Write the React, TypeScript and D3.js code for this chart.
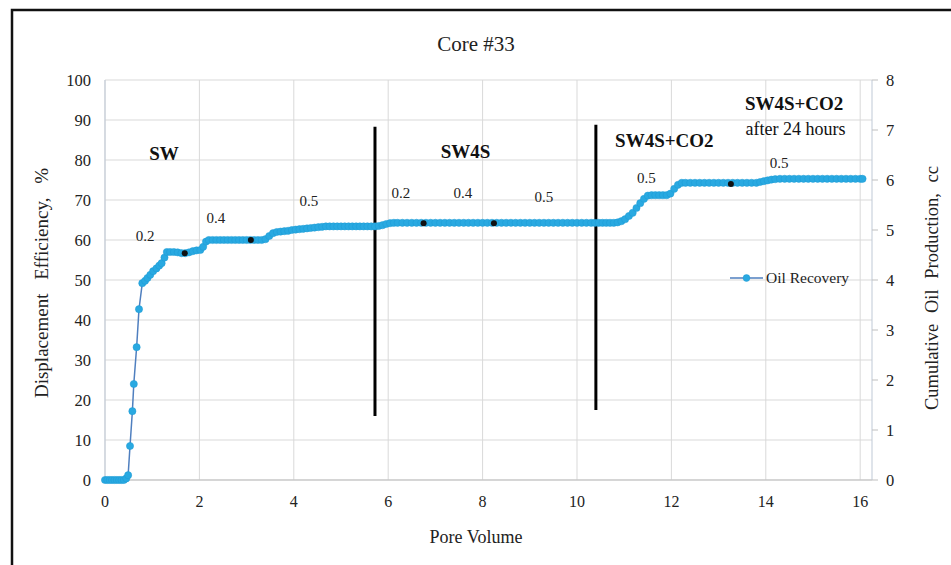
import * as d3 from 'd3'

// Oil recovery curve, [pore volume, displacement efficiency %]
const swStage: [number, number][] = [
  [0, 0], [0.05, 0], [0.1, 0], [0.15, 0], [0.2, 0], [0.25, 0], [0.3, 0], [0.35, 0], [0.4, 0], [0.45, 0.4], [0.49, 1.2],
  [0.53, 8.5], [0.58, 17.2], [0.61, 24], [0.67, 33.2], [0.72, 42.7], [0.79, 49.2],
  [0.85, 49.8], [0.9, 50.5], [0.96, 51.3], [1.02, 52.2], [1.09, 52.9], [1.15, 53.6], [1.2, 54.2], [1.26, 55.6], [1.31, 57],
  [1.38, 57], [1.46, 57], [1.54, 56.9], [1.62, 56.7], [1.7, 56.7], [1.78, 56.9], [1.86, 57.2], [1.94, 57.4], [2.02, 57.5],
  [2.08, 58.3], [2.14, 59.6], [2.2, 60], [2.28, 60], [2.36, 60], [2.44, 60], [2.52, 60], [2.6, 60], [2.68, 60], [2.76, 60],
  [2.84, 60], [2.92, 60], [3.0, 60], [3.08, 60], [3.16, 60], [3.24, 60], [3.32, 60], [3.4, 60.2],
  [3.48, 61], [3.56, 61.7], [3.64, 62], [3.72, 62.1], [3.8, 62.2], [3.88, 62.3], [3.96, 62.5], [4.04, 62.6], [4.12, 62.7],
  [4.2, 62.8], [4.28, 62.9], [4.36, 63], [4.44, 63.1], [4.52, 63.2], [4.6, 63.3], [4.68, 63.4], [4.76, 63.4], [4.84, 63.4],
  [4.92, 63.4], [5.0, 63.4], [5.08, 63.4], [5.16, 63.4], [5.24, 63.4], [5.32, 63.4], [5.4, 63.4], [5.48, 63.4], [5.56, 63.4],
  [5.64, 63.4], [5.72, 63.4],
]

const sw4sStage: [number, number][] = [
  [5.8, 63.5], [5.88, 63.7], [5.96, 64], [6.04, 64.2], [6.12, 64.3], [6.2, 64.3], [6.3, 64.3], [6.4, 64.3], [6.5, 64.3],
  [6.6, 64.3], [6.7, 64.3], [6.8, 64.3], [6.9, 64.3], [7.0, 64.3], [7.1, 64.3], [7.2, 64.3], [7.3, 64.3], [7.4, 64.3],
  [7.5, 64.3], [7.6, 64.3], [7.7, 64.3], [7.8, 64.3], [7.9, 64.3], [8.0, 64.3], [8.1, 64.3], [8.2, 64.3], [8.3, 64.3],
  [8.4, 64.3], [8.5, 64.3], [8.6, 64.3], [8.7, 64.3], [8.8, 64.3], [8.9, 64.3], [9.0, 64.3], [9.1, 64.3], [9.2, 64.3],
  [9.3, 64.3], [9.4, 64.3], [9.5, 64.3], [9.6, 64.3], [9.7, 64.3], [9.8, 64.3], [9.9, 64.3], [10.0, 64.3], [10.1, 64.3],
  [10.2, 64.3], [10.3, 64.3], [10.38, 64.3],
]

const co2Stage: [number, number][] = [
  [10.46, 64.3], [10.54, 64.3], [10.62, 64.3], [10.7, 64.3], [10.78, 64.3], [10.86, 64.4], [10.94, 64.7], [11.02, 65.2],
  [11.1, 66], [11.18, 66.8], [11.26, 68], [11.34, 69.2], [11.42, 70.3], [11.5, 71.1], [11.58, 71.2], [11.66, 71.2],
  [11.74, 71.2], [11.82, 71.2], [11.9, 71.2], [11.98, 71.6], [12.06, 72.8], [12.14, 73.8], [12.22, 74.3], [12.3, 74.3],
]

const co2After24Stage: [number, number][] = [
  [12.4, 74.3], [12.5, 74.3], [12.6, 74.3], [12.7, 74.3], [12.8, 74.3], [12.9, 74.3], [13.0, 74.3], [13.1, 74.3],
  [13.2, 74.3], [13.3, 74.3], [13.4, 74.3], [13.5, 74.3], [13.6, 74.3], [13.7, 74.3], [13.8, 74.3], [13.88, 74.5],
  [13.96, 74.7], [14.04, 74.9], [14.12, 75.1], [14.2, 75.2], [14.3, 75.3], [14.4, 75.3], [14.5, 75.3], [14.6, 75.3],
  [14.7, 75.3], [14.8, 75.3], [14.9, 75.3], [15.0, 75.3], [15.1, 75.3], [15.2, 75.3], [15.3, 75.3], [15.4, 75.3],
  [15.5, 75.3], [15.6, 75.3], [15.7, 75.3], [15.8, 75.3], [15.9, 75.3], [16.0, 75.3], [16.05, 75.3],
]

// black dots where the injection rate changes
const rateChangePV = [1.69, 3.09, 6.75, 8.24, 13.26]
const rateChangeEff = [56.7, 60, 64.2, 64.2, 74.0]

// vertical stage dividers
const dividerPV = [5.72, 10.4]
const dividerTop = [88.3, 88.8]
const dividerBottom = [16, 17.5]

const xTicks = [0, 2, 4, 6, 8, 10, 12, 14, 16]
const yTicks = [0, 10, 20, 30, 40, 50, 60, 70, 80, 90, 100]
const y2Ticks = [0, 1, 2, 3, 4, 5, 6, 7, 8]

// flood stage and rate annotations [pv, eff, text]
const stageLabels: [number, number, string][] = [
  [1.25, 80, 'SW'],
  [7.64, 80.5, 'SW4S'],
  [11.85, 83.3, 'SW4S+CO2'],
  [14.6, 92.5, 'SW4S+CO2'],
]
const rateLabels: [number, number, string][] = [
  [0.85, 59.8, '0.2'], [2.35, 64.2, '0.4'], [4.32, 68.5, '0.5'],
  [6.27, 70.5, '0.2'], [7.58, 70.5, '0.4'], [9.3, 69.5, '0.5'],
  [11.47, 74.2, '0.5'], [14.28, 78, '0.5'],
]

const W = 951
const H = 565
const FONT = '"Liberation Serif", "Times New Roman", serif'
const BLUE = '#29a9e1'
const LINE = '#4f7fbf'

export default function App() {
  const x = d3.scaleLinear().domain([0, 16.25]).range([105, 872])
  const y = d3.scaleLinear().domain([0, 100]).range([480, 80])
  const y2 = d3.scaleLinear().domain([0, 8]).range([480, 80])

  const data = [...swStage, ...sw4sStage, ...co2Stage, ...co2After24Stage]
  const line = d3.line<[number, number]>().x((d) => x(d[0])).y((d) => y(d[1]))

  const [x0, x1] = x.range()
  const [yb, yt] = y.range()

  return (
    <svg width={W} height={H} style={{ position: 'absolute', left: 0, top: 0, background: '#fff' }} fontFamily={FONT}>
      <rect x={12} y={10} width={980} height={620} fill="#fff" stroke="#111" strokeWidth={2.5} />

      {/* grid */}
      {yTicks.map((t) => (
        <line key={'gy' + t} x1={x0} x2={x1} y1={y(t)} y2={y(t)} stroke="#d9d9d9" strokeWidth={1} />
      ))}
      {xTicks.map((t) => (
        <line key={'gx' + t} x1={x(t)} x2={x(t)} y1={yt} y2={yb} stroke="#d9d9d9" strokeWidth={1} />
      ))}

      {/* axes */}
      <line x1={x0} x2={x1} y1={yb} y2={yb} stroke="#bfbfbf" />
      <line x1={x0} x2={x0} y1={yt} y2={yb} stroke="#bfc9d6" />
      <line x1={x1} x2={x1} y1={yt} y2={yb} stroke="#bfc9d6" />
      {y2Ticks.map((t) => (
        <line key={'t2' + t} x1={x1} x2={x1 + 6} y1={y2(t)} y2={y2(t)} stroke="#bfbfbf" />
      ))}

      {yTicks.map((t) => (
        <text key={'ly' + t} x={91} y={y(t) + 6} textAnchor="end" fontSize={16.5} fill="#222">{t}</text>
      ))}
      {y2Ticks.map((t) => (
        <text key={'ry' + t} x={886} y={y2(t) + 6} fontSize={16.5} fill="#222">{t}</text>
      ))}
      {xTicks.map((t) => (
        <text key={'lx' + t} x={x(t)} y={507} textAnchor="middle" fontSize={16} fill="#222">{t}</text>
      ))}

      <text x={476} y={51} textAnchor="middle" fontSize={21} fill="#222">Core #33</text>
      <text x={476} y={543} textAnchor="middle" fontSize={18} fill="#222">Pore Volume</text>
      <text transform="translate(48,283) rotate(-90)" textAnchor="middle" fontSize={19} wordSpacing={9} fill="#222">
        Displacement Efficiency, %
      </text>
      <text transform="translate(938,288) rotate(-90)" textAnchor="middle" fontSize={18.5} wordSpacing={6} fill="#222">
        Cumulative Oil Production, cc
      </text>

      {/* stage dividers */}
      {dividerPV.map((p, i) => (
        <line key={'dv' + i} x1={x(p)} x2={x(p)} y1={y(dividerTop[i])} y2={y(dividerBottom[i])} stroke="#000" strokeWidth={3} />
      ))}

      {/* oil recovery series */}
      <path d={line(data) ?? ''} fill="none" stroke={LINE} strokeWidth={1.5} />
      {data.map((d, i) => (
        <circle key={'m' + i} cx={x(d[0])} cy={y(d[1])} r={3.6} fill={BLUE} stroke="#1d9ad4" strokeWidth={0.5} />
      ))}
      {rateChangePV.map((p, i) => (
        <circle key={'b' + i} cx={x(p)} cy={y(rateChangeEff[i])} r={3} fill="#111" />
      ))}

      {stageLabels.map(([p, e, s], i) => (
        <text key={'s' + i} x={x(p)} y={y(e)} textAnchor="middle" fontSize={19} fontWeight="bold" fill="#111">{s}</text>
      ))}
      <text x={x(14.63)} y={y(86.3)} textAnchor="middle" fontSize={18} fill="#111">after 24 hours</text>
      {rateLabels.map(([p, e, s], i) => (
        <text key={'r' + i} x={x(p)} y={y(e)} textAnchor="middle" fontSize={15} fill="#222">{s}</text>
      ))}

      {/* legend */}
      <g transform="translate(730,278)">
        <line x1={0} x2={33} y1={0} y2={0} stroke={LINE} strokeWidth={1.5} />
        <circle cx={16.5} cy={0} r={3.4} fill={BLUE} stroke="#1d9ad4" strokeWidth={0.5} />
        <text x={36} y={5} fontSize={15.5} fill="#222">Oil Recovery</text>
      </g>
    </svg>
  )
}
